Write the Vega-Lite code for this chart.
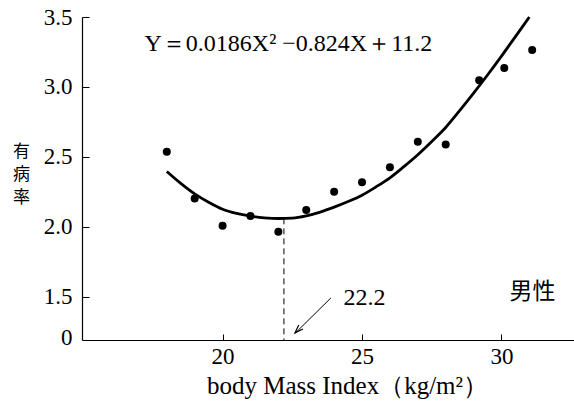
{
  "$schema": "https://vega.github.io/schema/vega-lite/v6.json",
  "width": 492,
  "height": 323,
  "autosize": {"type": "none"},
  "padding": {"left": 82, "top": 17, "right": 0, "bottom": 75},
  "background": "white",
  "config": {
    "view": {"stroke": null},
    "axis": {"grid": false, "domainColor": "black", "domainWidth": 1.2, "tickColor": "black", "labelColor": "black", "titleColor": "black"}
  },
  "datasets": {
    "dots": [
      {"bmi": 18, "rate": 2.536},
      {"bmi": 19, "rate": 2.202},
      {"bmi": 20, "rate": 2.007},
      {"bmi": 21, "rate": 2.076},
      {"bmi": 22, "rate": 1.964},
      {"bmi": 23, "rate": 2.119},
      {"bmi": 24, "rate": 2.25},
      {"bmi": 25, "rate": 2.319},
      {"bmi": 26, "rate": 2.426},
      {"bmi": 27, "rate": 2.607},
      {"bmi": 28, "rate": 2.588},
      {"bmi": 29.2, "rate": 3.047},
      {"bmi": 30.1, "rate": 3.136},
      {"bmi": 31.1, "rate": 3.264}
    ],
    "curve": [
      {"bmi": 18, "rate": 2.395},
      {"bmi": 18.5, "rate": 2.31},
      {"bmi": 19, "rate": 2.235},
      {"bmi": 19.5, "rate": 2.175},
      {"bmi": 20, "rate": 2.125},
      {"bmi": 20.5, "rate": 2.095},
      {"bmi": 21, "rate": 2.076},
      {"bmi": 21.5, "rate": 2.064},
      {"bmi": 22, "rate": 2.059},
      {"bmi": 22.5, "rate": 2.062},
      {"bmi": 23, "rate": 2.078},
      {"bmi": 23.5, "rate": 2.105},
      {"bmi": 24, "rate": 2.14},
      {"bmi": 24.5, "rate": 2.18},
      {"bmi": 25, "rate": 2.226},
      {"bmi": 25.5, "rate": 2.285},
      {"bmi": 26, "rate": 2.35},
      {"bmi": 26.5, "rate": 2.43},
      {"bmi": 27, "rate": 2.515},
      {"bmi": 27.5, "rate": 2.61},
      {"bmi": 28, "rate": 2.71},
      {"bmi": 28.5, "rate": 2.83},
      {"bmi": 29, "rate": 2.955},
      {"bmi": 29.5, "rate": 3.085},
      {"bmi": 30, "rate": 3.22},
      {"bmi": 30.5, "rate": 3.36},
      {"bmi": 31, "rate": 3.5}
    ],
    "one": [{}]
  },
  "layer": [
    {
      "data": {"name": "curve"},
      "mark": {"type": "line", "color": "black", "strokeWidth": 2.8, "interpolate": "monotone"},
      "encoding": {
        "x": {
          "field": "bmi", "type": "quantitative",
          "scale": {"domain": [14.96, 32.6], "nice": false, "zero": false},
          "axis": {
            "values": [20, 25, 30],
            "tickSize": -6, "tickWidth": 1,
            "labelPadding": 11,
            "labelFont": "Liberation Serif", "labelFontSize": 23,
            "title": "body Mass Index（kg/m²）",
            "titleFont": "Liberation Serif", "titleFontSize": 25, "titleFontWeight": "normal",
            "titleX": 265, "titleY": 45, "titleBaseline": "middle", "titleAlign": "center"
          }
        },
        "y": {
          "field": "rate", "type": "quantitative",
          "scale": {"domain": [1.19, 3.5], "nice": false, "zero": false},
          "axis": {
            "values": [1.21, 1.5, 2, 2.5, 3, 3.5],
            "labelExpr": "datum.value < 1.3 ? '0' : format(datum.value, '.1f')",
            "tickSize": -7, "tickWidth": 1,
            "tickColor": {"condition": {"test": "datum.value < 1.3", "value": "transparent"}, "value": "black"},
            "labelPadding": 17,
            "labelFont": "Liberation Serif", "labelFontSize": 23,
            "title": ["有", "病", "率"],
            "titleAngle": 0,
            "titleFont": "Noto Sans CJK JP", "titleFontSize": 17, "titleFontWeight": "normal",
            "titleLineHeight": 23,
            "titleX": -61, "titleY": 134, "titleAlign": "center", "titleBaseline": "middle"
          }
        }
      }
    },
    {
      "data": {"name": "dots"},
      "mark": {"type": "circle", "color": "black", "size": 64, "opacity": 1},
      "encoding": {
        "x": {"field": "bmi", "type": "quantitative"},
        "y": {"field": "rate", "type": "quantitative"}
      }
    },
    {
      "data": {"name": "one"},
      "mark": {"type": "rule", "color": "black", "strokeWidth": 1, "strokeDash": [6, 4]},
      "encoding": {
        "x": {"datum": 22.2},
        "y": {"datum": 2.06},
        "y2": {"datum": 1.19}
      }
    },
    {
      "data": {"name": "one"},
      "mark": {"type": "rule", "color": "black", "strokeWidth": 1},
      "encoding": {
        "x": {"datum": 23.885},
        "y": {"datum": 1.491},
        "x2": {"datum": 22.61},
        "y2": {"datum": 1.24}
      }
    },
    {
      "data": {"name": "one"},
      "mark": {"type": "point", "shape": "M-0.7,1L0,-1L0.7,1", "filled": false, "stroke": "black", "strokeWidth": 1.2, "size": 70, "angle": 225, "opacity": 1},
      "encoding": {
        "x": {"datum": 22.7},
        "y": {"datum": 1.262}
      }
    },
    {
      "data": {"name": "one"},
      "mark": {"type": "text", "align": "left", "baseline": "middle", "font": "Liberation Serif", "fontSize": 24, "color": "black"},
      "encoding": {
        "x": {"datum": 17.2},
        "y": {"datum": 3.307},
        "text": {"value": "Y＝0.0186X² −0.824X＋11.2"}
      }
    },
    {
      "data": {"name": "one"},
      "mark": {"type": "text", "align": "left", "baseline": "middle", "font": "Liberation Serif", "fontSize": 24, "color": "black"},
      "encoding": {
        "x": {"datum": 24.34},
        "y": {"datum": 1.493},
        "text": {"value": "22.2"}
      }
    },
    {
      "data": {"name": "one"},
      "mark": {"type": "text", "align": "left", "baseline": "middle", "font": "Noto Sans CJK JP", "fontSize": 23, "color": "black"},
      "encoding": {
        "x": {"datum": 30.29},
        "y": {"datum": 1.536},
        "text": {"value": "男性"}
      }
    }
  ]
}
